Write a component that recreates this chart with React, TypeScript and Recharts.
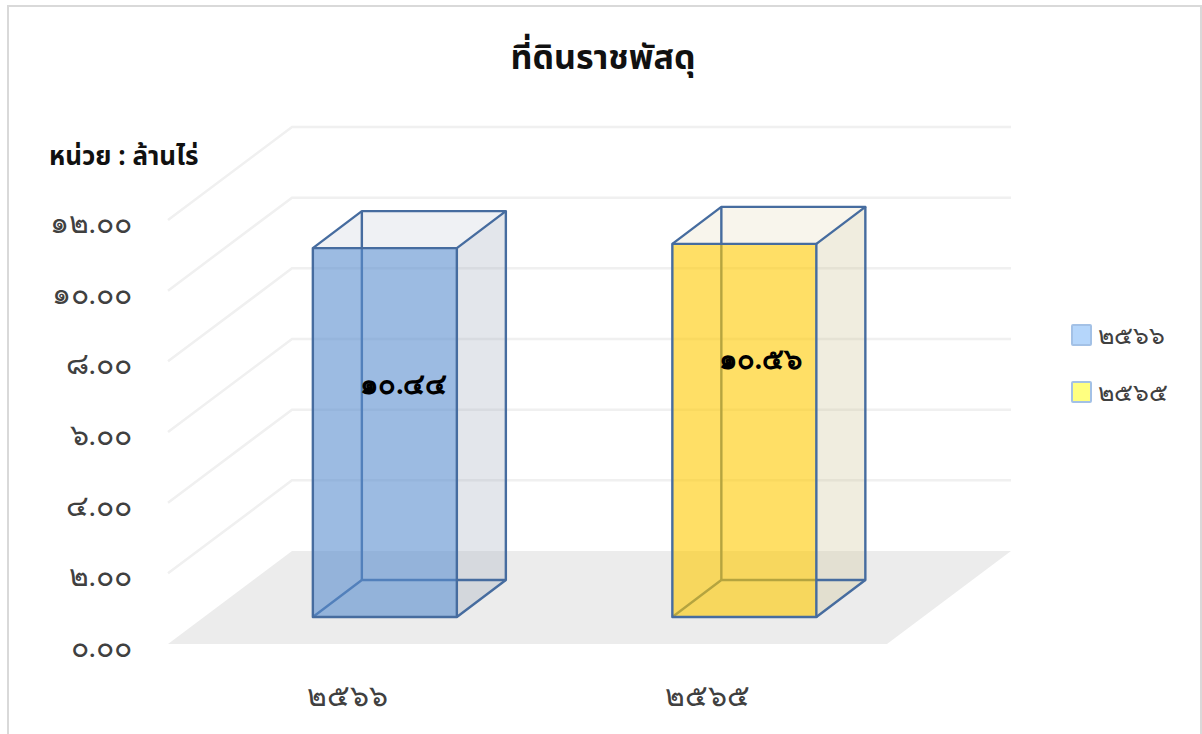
import React from "react";
import { BarChart, Bar, XAxis, YAxis, CartesianGrid, Legend, LabelList } from "recharts";

const categories = ["2566", "2565"];
const landValues = [10.44, 10.56];
const yTicks = [0, 2, 4, 6, 8, 10, 12];

const legendSwatches = ["#B5D6FB", "#FFFF80"];
const frontFills = ["rgba(90,142,207,0.6)", "rgba(255,202,0,0.6)"];
const topFills = ["rgba(161,172,188,0.17)", "rgba(205,185,120,0.14)"];
const sideFills = ["rgba(161,172,188,0.3)", "rgba(205,195,148,0.3)"];
const floorFills = ["rgba(120,135,160,0.02)", "rgba(215,190,90,0.02)"];
const labelNudge = [
  { dx: 19, dy: -49 },
  { dx: 16, dy: -71 },
];

const rows = categories.map((year, i) => ({ year, value: landValues[i] }));

const WIDTH = 1202;
const HEIGHT = 734;
const PLOT_LEFT = 168;
const PLOT_RIGHT = 887;
const PLOT_TOP = 220;
const PLOT_BOTTOM = 644;
const AXIS_W = 60;

// Receding direction of the whole scene and of a single column.
const WALL_DX = 124;
const WALL_DY = -93;
const BOX_DX = 49;
const BOX_DY = -37;
const FRONT_SHIFT_X = 37;
const FRONT_SHIFT_Y = -27;

const FONT = "'Noto Sans Thai', 'Noto Sans', 'Open Sans', sans-serif";
const DIGIT_FONT = "serif";
const EDGE = "#466C9F";

const thaiDigits = "๐๑๒๓๔๕๖๗๘๙";
const toThai = (s: string) => s.replace(/[0-9]/g, (d) => thaiDigits[Number(d)]);

const pts = (list: number[][]) => list.map((p) => p.join(",")).join(" ");

function GridRail(props: any) {
  const y = props.y1;
  const isBase = Math.abs(y - PLOT_BOTTOM) < 0.5;
  if (isBase) {
    return (
      <polygon
        points={pts([
          [PLOT_LEFT, y],
          [PLOT_RIGHT, y],
          [PLOT_RIGHT + WALL_DX, y + WALL_DY],
          [PLOT_LEFT + WALL_DX, y + WALL_DY],
        ])}
        fill="#ECECEC"
      />
    );
  }
  return (
    <polyline
      points={pts([
        [PLOT_LEFT, y],
        [PLOT_LEFT + WALL_DX, y + WALL_DY],
        [PLOT_RIGHT + WALL_DX, y + WALL_DY],
      ])}
      fill="none"
      stroke="#F0F0F0"
      strokeWidth={2.5}
    />
  );
}

function Column(props: any) {
  const { x, y, width, height, index } = props;
  const l = x + FRONT_SHIFT_X;
  const r = l + width;
  const t = y + FRONT_SHIFT_Y;
  const b = t + height;
  const dx = BOX_DX;
  const dy = BOX_DY;
  const edge = { fill: "none", stroke: EDGE, strokeWidth: 2.4, strokeLinejoin: "round" as const };
  return (
    <g>
      <polygon points={pts([[l, t], [l + dx, t + dy], [r + dx, t + dy], [r, t]])} fill={topFills[index]} />
      <polygon points={pts([[l, b], [l + dx, b + dy], [r + dx, b + dy], [r, b]])} fill={floorFills[index]} />
      <polygon points={pts([[r, t], [r + dx, t + dy], [r + dx, b + dy], [r, b]])} fill={sideFills[index]} />
      <polyline points={pts([[l + dx, b + dy], [l + dx, t + dy]])} {...edge} />
      <polyline points={pts([[l, b], [l + dx, b + dy], [r + dx, b + dy]])} {...edge} />
      <rect x={l} y={t} width={width} height={height} fill={frontFills[index]} />
      <polyline points={pts([[l, t], [l + dx, t + dy], [r + dx, t + dy], [r, t]])} {...edge} />
      <polyline points={pts([[r + dx, t + dy], [r + dx, b + dy], [r, b]])} {...edge} />
      <rect x={l} y={t} width={width} height={height} {...edge} />
    </g>
  );
}

function ValueLabel(props: any) {
  const { x, y, width, height, value, index } = props;
  const cx = x + width / 2 + FRONT_SHIFT_X + labelNudge[index].dx;
  const cy = y + height / 2 + FRONT_SHIFT_Y + labelNudge[index].dy;
  return (
    <text x={cx} y={cy} textAnchor="middle" dominantBaseline="central" fontFamily={DIGIT_FONT} fontSize={29} fontWeight={700} fill="#000">
      {toThai(Number(value).toFixed(2))}
    </text>
  );
}

function YTick(props: any) {
  const { y, payload } = props;
  return (
    <text x={132} y={y + 13} textAnchor="end" fontFamily={DIGIT_FONT} fontSize={30} fontWeight={300} fill="#404040">
      {toThai(Number(payload.value).toFixed(2))}
    </text>
  );
}

function XTick(props: any) {
  const { x, payload } = props;
  return (
    <text x={x} y={706} textAnchor="middle" fontFamily={DIGIT_FONT} fontSize={30} fontWeight={300} fill="#404040">
      {toThai(payload.value)}
    </text>
  );
}

function YearLegend() {
  return (
    <div style={{ fontFamily: DIGIT_FONT, fontSize: 25, fontWeight: 300, color: "#404040" }}>
      {categories.map((year, i) => (
        <div key={year} style={{ display: "flex", alignItems: "center", height: 57 }}>
          <span
            style={{
              display: "inline-block",
              width: 17,
              height: 18,
              background: legendSwatches[i],
              border: "2px solid #A3C1E6",
              borderRadius: 2,
              marginRight: 6,
            }}
          />
          {toThai(year)}
        </div>
      ))}
    </div>
  );
}

export default function App() {
  return (
    <div style={{ position: "absolute", left: 0, top: 0, width: WIDTH, height: HEIGHT, overflow: "hidden", background: "#fff" }}>
      <div style={{ position: "absolute", left: 7, top: 5, width: WIDTH - 7, height: HEIGHT, boxSizing: "border-box", borderLeft: "2px solid #D9D9D9", borderTop: "2px solid #D9D9D9", borderRight: "2px solid #D9D9D9" }} />
      <div style={{ position: "absolute", left: 0, top: 0 }}>
        <BarChart
          width={WIDTH}
          height={HEIGHT}
          data={rows}
          barCategoryGap="30%"
          margin={{ top: PLOT_TOP, bottom: HEIGHT - PLOT_BOTTOM - 40, left: PLOT_LEFT - AXIS_W, right: WIDTH - PLOT_RIGHT }}
        >
          <text x={603} y={69} textAnchor="middle" fontFamily={FONT} fontSize={34} fontWeight={700} fill="#111">
            ที่ดินราชพัสดุ
          </text>
          <text x={49} y={165} fontFamily={FONT} fontSize={26} fontWeight={700} fill="#111">
            หน่วย : ล้านไร่
          </text>
          <CartesianGrid vertical={false} horizontal={(p: any) => <GridRail key={p.y1} {...p} />} />
          <XAxis dataKey="year" height={40} axisLine={false} tickLine={false} tick={<XTick />} interval={0} />
          <YAxis width={AXIS_W} domain={[0, 12]} ticks={yTicks} axisLine={false} tickLine={false} tick={<YTick />} interval={0} />
          <Legend
            layout="vertical"
            align="center"
            verticalAlign="middle"
            content={<YearLegend />}
            wrapperStyle={{ position: "absolute", left: 1071, top: 306, width: 120, bottom: "auto", right: "auto", margin: 0 }}
          />
          <Bar dataKey="value" shape={<Column />} isAnimationActive={false}>
            <LabelList dataKey="value" content={<ValueLabel />} />
          </Bar>
        </BarChart>
      </div>
    </div>
  );
}
